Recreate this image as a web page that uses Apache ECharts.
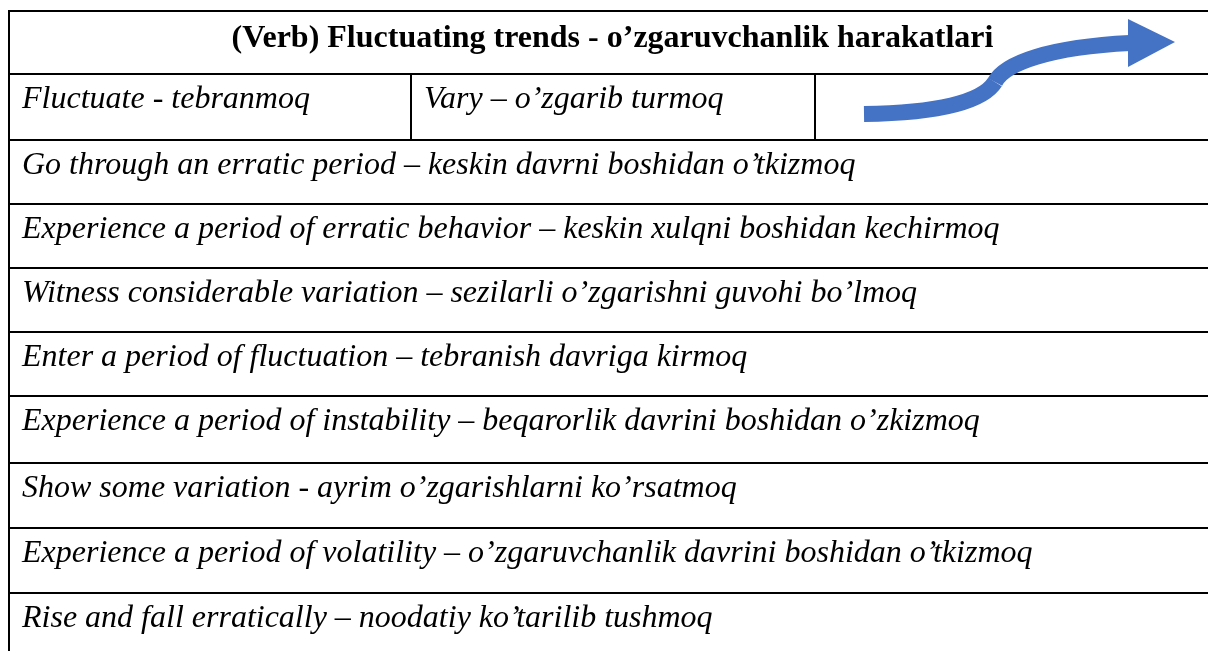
<!DOCTYPE html>
<html>
<head>
<meta charset="utf-8">
<script src="https://cdn.jsdelivr.net/npm/echarts@6/dist/echarts.min.js"></script>
<style>
  html, body { margin: 0; padding: 0; background: #fff; }
  #chart { width: 1208px; height: 651px; }
</style>
</head>
<body>
<div id="chart"></div>
<script>
const title = '(Verb) Fluctuating trends - o’zgaruvchanlik harakatlari'
const topRowCells = ['Fluctuate - tebranmoq', 'Vary – o’zgarib turmoq', '']
const phrases = [
  'Go through an erratic period – keskin davrni boshidan o’tkizmoq',
  'Experience a period of erratic behavior – keskin xulqni boshidan kechirmoq',
  'Witness considerable variation – sezilarli o’zgarishni guvohi bo’lmoq',
  'Enter a period of fluctuation – tebranish davriga kirmoq',
  'Experience a period of instability – beqarorlik davrini boshidan o’zkizmoq',
  'Show some variation - ayrim o’zgarishlarni ko’rsatmoq',
  'Experience a period of volatility – o’zgaruvchanlik davrini boshidan o’tkizmoq',
  'Rise and fall erratically – noodatiy ko’tarilib tushmoq'
]

// table rules, in page pixels (the hidden axes map 1:1 onto the page)
const rowLines = [11, 74, 140, 204, 268, 332, 396, 463, 528, 593, 660]
const colLines = [9, 411, 815, 1216]

const ARROW_BLUE = '#4472C4'
const SERIF = '"Liberation Serif", "Times New Roman", serif'

// build the cell list
const cells = []
cells.push({ x0: colLines[0], x1: colLines[3], y0: rowLines[0], y1: rowLines[1], text: title, bold: true, center: true })
topRowCells.forEach((t, i) => {
  cells.push({ x0: colLines[i], x1: colLines[i + 1], y0: rowLines[1], y1: rowLines[2], text: t })
})
phrases.forEach((t, i) => {
  cells.push({ x0: colLines[0], x1: colLines[3], y0: rowLines[i + 2], y1: rowLines[i + 3], text: t })
})

function renderCell(params, api) {
  const c = cells[params.dataIndex]
  const p0 = api.coord([c.x0, c.y0])
  const p1 = api.coord([c.x1, c.y1])
  const children = [{
    type: 'rect',
    shape: { x: p0[0], y: p0[1], width: p1[0] - p0[0], height: p1[1] - p0[1] },
    style: { fill: null, stroke: '#000', lineWidth: 2 }
  }]
  if (c.text) {
    children.push({
      type: 'text',
      x: c.center ? (p0[0] + p1[0]) / 2 : p0[0] + 13,
      y: p0[1] + (c.bold ? 12 : 10),
      style: {
        text: c.text,
        fill: '#000',
        font: (c.bold ? 'bold ' : 'italic ') + '32px ' + SERIF,
        align: c.center ? 'center' : 'left',
        verticalAlign: 'top'
      }
    })
  }
  return { type: 'group', children }
}

function renderArrow(params, api) {
  const c = (x, y) => api.coord([x, y])
  const a = c(864, 114), b1 = c(935, 113), b2 = c(982, 103), m = c(995, 82)
  const d1 = c(1005, 63), d2 = c(1050, 47), e = c(1130, 43)
  const h1 = c(1128, 19), h2 = c(1175, 42), h3 = c(1128, 67)
  const line = { fill: null, stroke: ARROW_BLUE, lineWidth: 16 }
  return {
    type: 'group',
    children: [
      { type: 'bezierCurve', shape: { x1: a[0], y1: a[1], cpx1: b1[0], cpy1: b1[1], cpx2: b2[0], cpy2: b2[1], x2: m[0], y2: m[1] }, style: line },
      { type: 'bezierCurve', shape: { x1: m[0], y1: m[1], cpx1: d1[0], cpy1: d1[1], cpx2: d2[0], cpy2: d2[1], x2: e[0], y2: e[1] }, style: line },
      { type: 'polygon', shape: { points: [h1, h2, h3] }, style: { fill: ARROW_BLUE } }
    ]
  }
}

const chart = echarts.init(document.getElementById('chart'))
chart.setOption({
  animation: false,
  backgroundColor: '#fff',
  grid: { left: 0, right: 0, top: 0, bottom: 0 },
  xAxis: { type: 'value', min: 0, max: 1208, show: false },
  yAxis: { type: 'value', min: 0, max: 651, inverse: true, show: false },
  series: [
    {
      type: 'custom',
      clip: false,
      renderItem: renderCell,
      data: cells.map(c => [c.x0, c.y0])
    },
    {
      type: 'custom',
      clip: false,
      renderItem: renderArrow,
      data: [[864, 114]]
    }
  ]
})
</script>
</body>
</html>
